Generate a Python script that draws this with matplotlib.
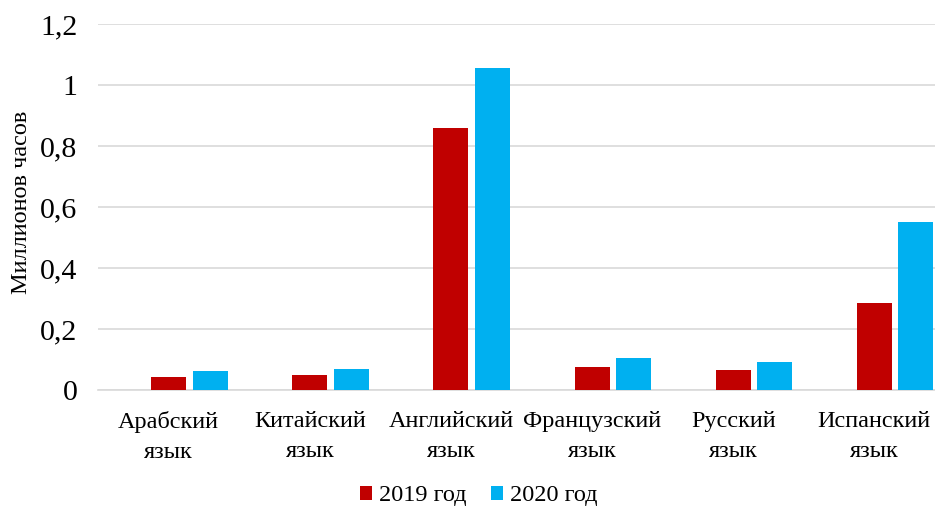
import matplotlib.pyplot as plt
import numpy as np
from matplotlib.ticker import FuncFormatter

plt.rcParams['font.family'] = ['Liberation Serif', 'DejaVu Serif']

# Data (million hours)
languages = ['Арабский\nязык', 'Китайский\nязык', 'Английский\nязык',
             'Французский\nязык', 'Русский\nязык', 'Испанский\nязык']
hours_2019 = [0.044, 0.051, 0.858, 0.075, 0.065, 0.285]
hours_2020 = [0.062, 0.068, 1.055, 0.104, 0.092, 0.550]

fig = plt.figure(figsize=(9.35, 5.08), dpi=100)
ax = fig.add_axes([0.105, 0.232, 0.895, 0.721])

x = np.arange(len(languages))
w = 0.248
# the category centre sits on the 2019 bar (an empty third slot on the left in the source)
ax.bar(x, hours_2019, width=w, color='#C00000', label='2019 год', zorder=3)
ax.bar(x + 0.294, hours_2020, width=w, color='#00B0F0', label='2020 год', zorder=3)

ax.set_xlim(-0.5, 5.43)
ax.set_ylim(0, 1.2)
ax.set_yticks(np.arange(0, 1.21, 0.2))
ax.yaxis.set_major_formatter(FuncFormatter(lambda v, p: f'{v:g}'.replace('.', ',') if v else '0'))
ax.grid(axis='y', color='#D9D9D9', linewidth=1.2, zorder=0)
ax.set_xticks(x)
ax.set_xticklabels(languages, fontsize=17.5, linespacing=1.55)
ax.tick_params(axis='y', labelsize=21.5, length=0, pad=15)
ax.tick_params(axis='x', length=0, pad=15)
for s in ['top', 'right', 'left']:
    ax.spines[s].set_visible(False)
ax.spines['bottom'].set_color('#D9D9D9')
ax.spines['bottom'].set_linewidth(1.2)

ax.set_ylabel('Миллионов часов', fontsize=17.5)
ax.yaxis.set_label_coords(-0.079, 0.514)

fig.legend(loc='center', bbox_to_anchor=(0.512, 0.024), ncol=2, frameon=False,
           fontsize=17.5, handlelength=0.5, handleheight=0.5, handletextpad=0.3,
           columnspacing=1.0)

fig.savefig('out.png', dpi=100)
